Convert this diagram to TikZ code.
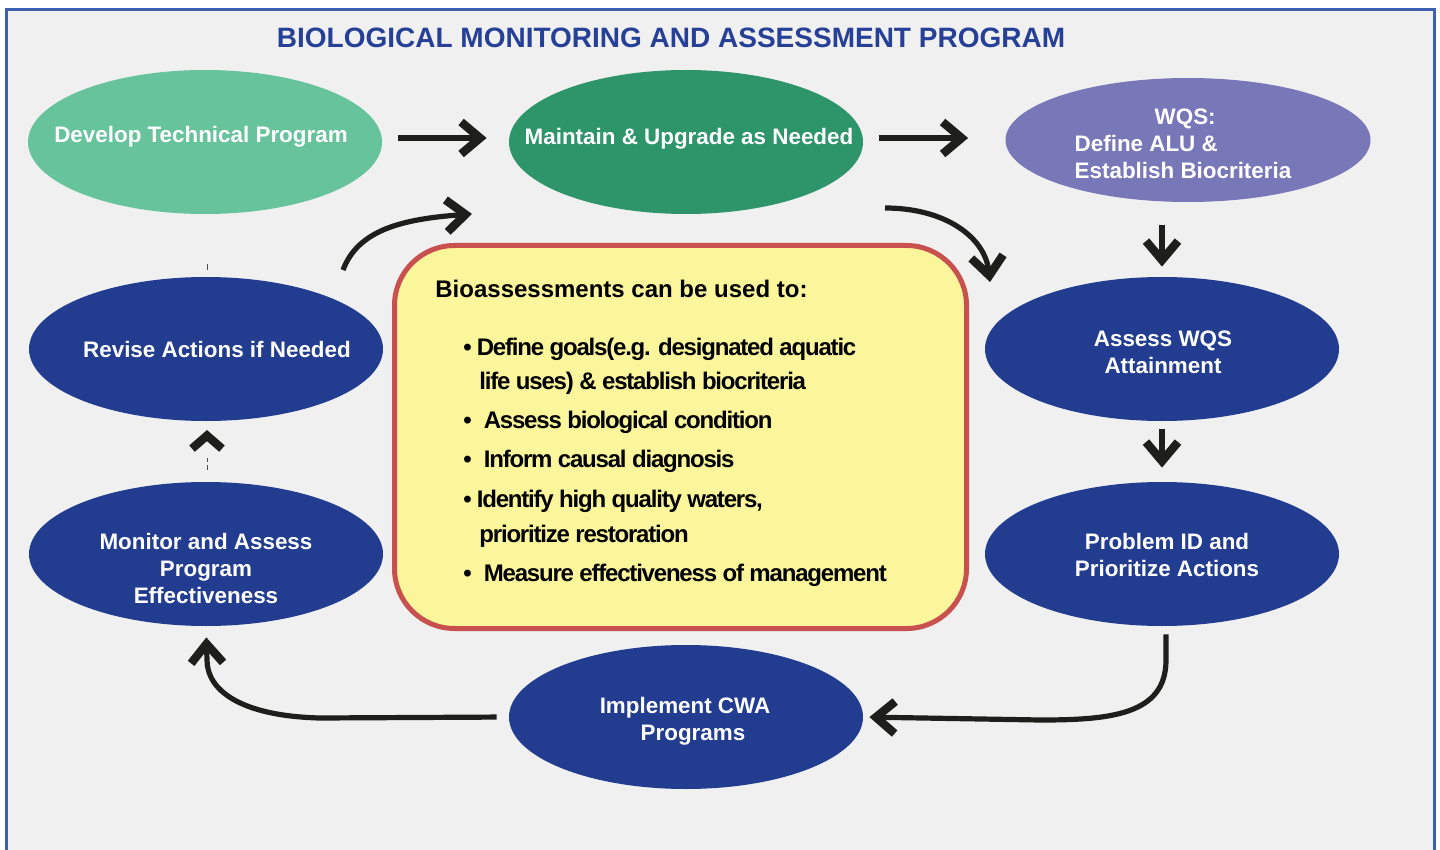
\documentclass[tikz,border=0pt]{standalone}
\usepackage{fontspec}
\setmainfont{Liberation Sans}
\newfontfamily\tightsans[LetterSpace=-5]{Liberation Sans}
\usetikzlibrary{arrows.meta,shapes.geometric}

\definecolor{pagebg}{RGB}{240,240,240}
\definecolor{framec}{RGB}{60,95,175}
\definecolor{titlec}{RGB}{37,64,150}
\definecolor{grnlight}{RGB}{102,195,156}
\definecolor{grndark}{RGB}{46,149,106}
\definecolor{purp}{RGB}{120,120,185}
\definecolor{navy}{RGB}{34,61,143}
\definecolor{yel}{RGB}{251,245,155}
\definecolor{redc}{RGB}{200,80,78}
\definecolor{arrowc}{RGB}{30,30,28}

\begin{document}
\begin{tikzpicture}[x=0.5pt,y=-0.5pt,
  oval/.style={ellipse, minimum width=177pt, minimum height=72pt, inner sep=0pt, draw=none},
  ovaltext/.style={text=white, font=\bfseries\fontsize{11.2}{13.5}\selectfont, align=center, inner sep=0pt},
  titletext/.style={text=titlec, font=\bfseries\fontsize{14}{16}\selectfont},
  headtext/.style={font=\bfseries\fontsize{12}{14}\selectfont, anchor=base west, inner sep=0pt},
  itemtext/.style={font=\tightsans\bfseries\fontsize{12}{14}\selectfont, anchor=base west, inner sep=0pt},
  flow/.style={draw=arrowc, line width=2.6pt,
    -{Straight Barb[length=9.5pt,width=16pt,line width=4.2pt]}},
  chev/.style={draw=arrowc, line width=4.2pt, miter limit=10},
  tick/.style={draw=black!70, line width=0.5pt}]

\clip (0,0) rectangle (1440,850);
\fill[white] (0,0) rectangle (1440,850);
\filldraw[fill=pagebg, draw=framec, line width=1.2pt] (6.5,9.5) rectangle (1434.5,900);

% title
\node[titletext] (title) at (671,38) {BIOLOGICAL MONITORING AND ASSESSMENT PROGRAM};

% program stages
\node[oval, fill=grnlight] (dev) at (205,142) {};
\node[oval, fill=grndark] (maint) at (686,142) {};
\node[oval, fill=purp, minimum width=182.5pt, minimum height=62pt] (wqs) at (1188,140) {};
\node[oval, fill=navy] (rev) at (206,349) {};
\node[oval, fill=navy] (ass) at (1162,349) {};
\node[oval, fill=navy] (mon) at (206,554) {};
\node[oval, fill=navy] (prob) at (1162,554) {};
\node[oval, fill=navy] (impl) at (686,717) {};

\node[ovaltext] (devt) at (201,137) {Develop Technical Program};
\node[ovaltext] (maintt) at (689,139) {Maintain \& Upgrade as Needed};
\node[ovaltext, align=left] (wqst) at (1183,144) {\hspace*{40pt}WQS:\\Define ALU \&\\Establish Biocriteria};
\node[ovaltext] (revt) at (217,349) {Revise Actions if Needed};
\node[ovaltext] (asst) at (1163,352) {Assess WQS\\Attainment};
\node[ovaltext] (mont) at (206,568) {Monitor and Assess\\Program\\Effectiveness};
\node[ovaltext] (probt) at (1167,555) {Problem ID and\\Prioritize Actions};
\node[ovaltext] (implt) at (685,721) {Implement CWA\\\hspace*{8pt}Programs};

% central panel
\node[draw=redc, fill=yel, line width=2.5pt, rounded corners=30pt,
      minimum width=286pt, minimum height=191.5pt, inner sep=0pt] (bio) at (680.5,437) {};
\node[headtext] (bh) at (435,298) {Bioassessments can be used to:};
\node[itemtext] (b1) at (463,355) {•\hspace{2.5pt}Define goals(e.g. designated aquatic};
\node[itemtext] (b2) at (479,389) {life uses) \& establish biocriteria};
\node[itemtext] (b3) at (463,428) {•\hspace{6pt}Assess biological condition};
\node[itemtext] (b4) at (463,467) {•\hspace{6pt}Inform causal diagnosis};
\node[itemtext] (b5) at (463,507) {•\hspace{2.5pt}Identify high quality waters,};
\node[itemtext] (b6) at (479,542) {prioritize restoration};
\node[itemtext] (b7) at (463,581) {•\hspace{6pt}Measure effectiveness of management};

% connectors
\draw[flow, shorten <=8pt, shorten >=11pt] ([yshift=2pt]dev.east) -- ([yshift=2pt]maint.west);
\draw[flow, shorten <=8pt, shorten >=18.5pt] ([yshift=2pt]maint.east) -- ([yshift=2pt]maint.east -| wqs.west);
\draw[flow, shorten <=11.5pt, shorten >=5pt] (wqs.south -| ass.north) -- (ass.north);
\draw[flow, shorten <=4pt, shorten >=7pt] (ass.south) -- (prob.north);
\draw[flow, shorten >=3pt] ([xshift=2pt,yshift=-4pt]prob.south) -- (1166,660)
  .. controls (1166,715) and (1110,720) .. (1040,720) -- (impl.east);
\draw[flow, shorten <=6pt, shorten >=5.5pt] (impl.west) -- (320,718)
  .. controls (240,716) and (207,690) .. (207,660) -- (mon.south);
\draw[flow] ([shift={(137,-79)}]rev.center) .. controls +(15,-40) and +(-70,5) .. ([shift={(-214,72)}]maint.center);
\draw[flow] ([shift={(199,66)}]maint.center) .. controls +(60,0) and +(-5,-45) .. ([shift={(-172,-67)}]ass.center);

% upward chevron between monitoring and revision
\path (mon.north) ++(1,-46) coordinate (uptip);
\draw[chev] (uptip) ++(-15,13) -- (uptip) -- ++(15,13);

% small tick marks
\draw[tick] (207,264) -- (207,270);
\draw[tick] (207,458) -- (207,462);
\draw[tick] (207,465) -- (207,470);
\end{tikzpicture}
\end{document}
